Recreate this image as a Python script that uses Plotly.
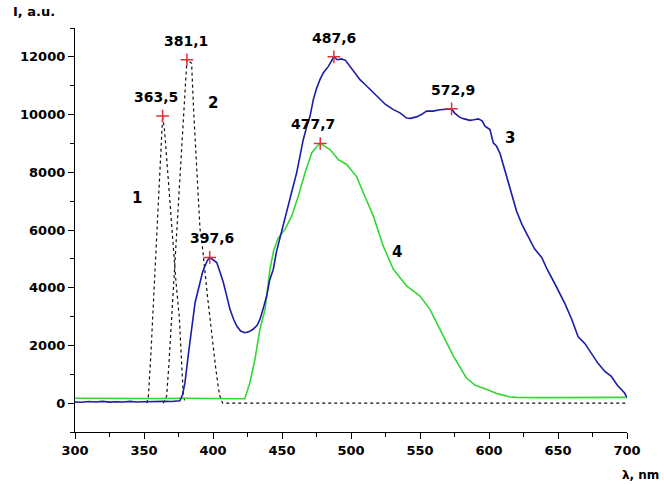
import plotly.graph_objects as go

# --- excitation spectra (dotted), curves 1 and 2 ---
wl_1 = [352, 353.2, 355, 356.3, 357.5, 359.2, 361, 362.5, 363.5, 365, 367, 369, 371.2, 373, 375.6, 377, 378.5, 380]
int_1 = [0, 250, 1700, 2960, 4200, 5670, 7900, 9300, 9950, 9400, 8100, 6900, 5670, 4300, 2960, 1700, 250, 0]

wl_2 = [364, 366.4, 368, 370, 372, 373.6, 375, 377.3, 379, 380, 381.1, 382.5, 384.5, 386, 388.2, 390.6, 391.8, 394, 396, 397.8, 400, 402, 404, 405, 407, 450, 500, 550, 600, 650, 700]
int_2 = [0, 250, 1300, 2960, 4500, 5670, 6800, 8790, 10300, 11200, 11900, 11850, 11780, 10100, 8330, 6020, 5670, 4550, 3700, 2960, 2000, 1200, 500, 250, 0, 0, 0, 0, 0, 0, 0]

# --- luminescence spectrum, curve 3 ---
wl_3 = [300, 305, 310, 315, 320, 325, 330, 335, 340, 345, 350, 355, 360, 365, 370, 374, 376,
        378, 379.7, 382, 384.5, 387, 390.6, 392.5, 394.2, 396, 397.6, 399, 401, 402.7, 405, 407.5,
        410, 412.3, 415, 417.2, 420, 423, 426, 429, 432, 434, 436.5, 438.9, 441, 443.7, 446, 448.5,
        451, 453.5, 455.8, 458, 460.6, 463, 465.4, 468, 470.3, 472.7, 475, 477.5, 480, 483.6, 486,
        487.6, 490, 493.2, 496, 499.3, 503, 506.5, 510, 513.8, 517, 521, 525, 530.7, 535.5, 540.3,
        543, 547.5, 551, 554.8, 559.4, 564.5, 568, 572.9, 575, 578.6, 582, 586.2, 589, 592.3, 595,
        597.1, 600.7, 603.1, 605.5, 608, 611, 614.4, 617, 620, 624, 628.8, 633, 638.3, 642, 647.9,
        651, 655.1, 660, 664.6, 669.4, 674, 679, 684, 688.6, 693, 698.1, 700]
int_3 = [40, 30, 55, 40, 60, 35, 50, 40, 60, 40, 50, 60, 45, 60, 55, 60, 80,
         300, 710, 1640, 2560, 3480, 4180, 4550, 4750, 4950, 5050, 5000, 4920, 4870, 4550, 4180,
         3700, 3250, 2900, 2670, 2500, 2440, 2470, 2560, 2700, 2900, 3300, 3710, 4250, 4640, 5250, 5700,
         6140, 6600, 7060, 7500, 7980, 8600, 9130, 9600, 9940, 10520, 10900, 11210, 11450, 11670, 11900,
         12000, 11900, 11930, 11880, 11670, 11450, 11210, 11050, 10870, 10700, 10520, 10350, 10170, 10060, 9880,
         9870, 9920, 10000, 10120, 10120, 10170, 10180, 10200, 10060, 9910, 9850, 9800, 9820, 9850, 9780,
         9600, 9480, 9020, 8900, 8650, 8150, 7550, 7100, 6650, 6180, 5720, 5350, 5040, 4650, 4120,
         3850, 3440, 2900, 2300, 2070, 1750, 1380, 1100, 930, 620, 360, 200]

# --- luminescence spectrum, curve 4 ---
wl_4 = [300, 320, 340, 360, 380, 400, 412, 423, 426.8, 430.4, 434, 437.7, 441.3, 444, 447.3, 452.2,
        457, 461.8, 466.7, 471.5, 474.5, 477.7, 481, 484.8, 490.8, 496.9, 501.7, 504.1, 508.9, 516.2,
        523.4, 530.7, 540.3, 550, 557.2, 564.5, 574.1, 583.5, 590, 598, 606, 614.5, 620, 640, 660,
        680, 700]
int_4 = [170, 160, 170, 160, 170, 160, 150, 150, 720, 1520, 2560, 3250, 4640, 5300, 5730, 6020,
         6480, 7170, 7980, 8670, 8850, 9000, 8900, 8790, 8440, 8270, 7980, 7850, 7290, 6480,
         5440, 4640, 4060, 3710, 3250, 2560, 1640, 880, 620, 480, 330, 220, 200, 190, 200,
         190, 200]

# --- marked maxima ---
peak_wl = [363.5, 381.1, 397.6, 487.6, 477.7, 572.9]
peak_int = [9950, 11900, 5050, 12000, 9000, 10200]
peak_dx = [-7, -1, 2, 0, -7, 1]

# --- curve numbers ---
curve_names = ["1", "2", "3", "4"]
curve_name_wl = [345, 400, 615, 533]
curve_name_int = [7100, 10400, 9200, 5250]

x_ticks = [300, 350, 400, 450, 500, 550, 600, 650, 700]
y_ticks = [0, 2000, 4000, 6000, 8000, 10000, 12000]

FONT = "DejaVu Sans, sans-serif"
BLUE = "#1c1ca6"
GREEN = "#35d635"

fig = go.Figure()
fig.add_trace(go.Scatter(x=wl_1, y=int_1, mode="lines",
                         line=dict(color="#111111", width=1.2, dash="dot")))
fig.add_trace(go.Scatter(x=wl_2, y=int_2, mode="lines",
                         line=dict(color="#111111", width=1.2, dash="dot")))
fig.add_trace(go.Scatter(x=wl_4, y=int_4, mode="lines",
                         line=dict(color=GREEN, width=1.6)))
fig.add_trace(go.Scatter(x=wl_3, y=int_3, mode="lines",
                         line=dict(color=BLUE, width=1.6)))
fig.add_trace(go.Scatter(x=peak_wl, y=peak_int, mode="markers",
                         marker=dict(symbol="cross-thin", size=9,
                                     line=dict(color="#e0303a", width=1.5))))

for xw, yi, dx in zip(peak_wl, peak_int, peak_dx):
    fig.add_annotation(x=xw, y=yi, text=f"{xw:.1f}".replace(".", ","),
                       showarrow=False, xshift=dx, yshift=19,
                       font=dict(family=FONT, size=14, color="black", weight="bold"))

for name, xw, yi in zip(curve_names, curve_name_wl, curve_name_int):
    fig.add_annotation(x=xw, y=yi, text=name, showarrow=False,
                       font=dict(family=FONT, size=15, color="black", weight="bold"))

fig.add_annotation(xref="paper", yref="paper", x=-0.116, y=1.04, xanchor="left",
                   yanchor="middle", text="I, a.u.", showarrow=False,
                   font=dict(family=FONT, size=13, color="black", weight="bold"))
fig.add_annotation(xref="paper", yref="paper", x=1.062, y=-0.106, xanchor="right",
                   yanchor="middle", text="λ, nm", showarrow=False,
                   font=dict(family=FONT, size=12, color="black", weight="bold"))

axis_common = dict(showgrid=False, zeroline=False, showline=True, linecolor="black",
                   linewidth=1.3, ticks="outside", tickcolor="black", ticklen=6,
                   tickwidth=1.2, tickformat="d",
                   tickfont=dict(family=FONT, size=13, color="black", weight="bold"))

fig.update_xaxes(range=[300, 700], tickvals=x_ticks,
                 minor=dict(dtick=25, tick0=300, ticks="outside", ticklen=4,
                            tickcolor="black", tickwidth=1),
                 **axis_common)
fig.update_yaxes(range=[-1000, 13000], tickvals=y_ticks,
                 minor=dict(dtick=1000, tick0=0, ticks="outside", ticklen=4,
                            tickcolor="black", tickwidth=1),
                 **axis_common)

fig.update_layout(width=664, height=485, showlegend=False,
                  margin=dict(l=75, r=37, t=28, b=53),
                  paper_bgcolor="white", plot_bgcolor="white")

fig.write_html("out.html")
